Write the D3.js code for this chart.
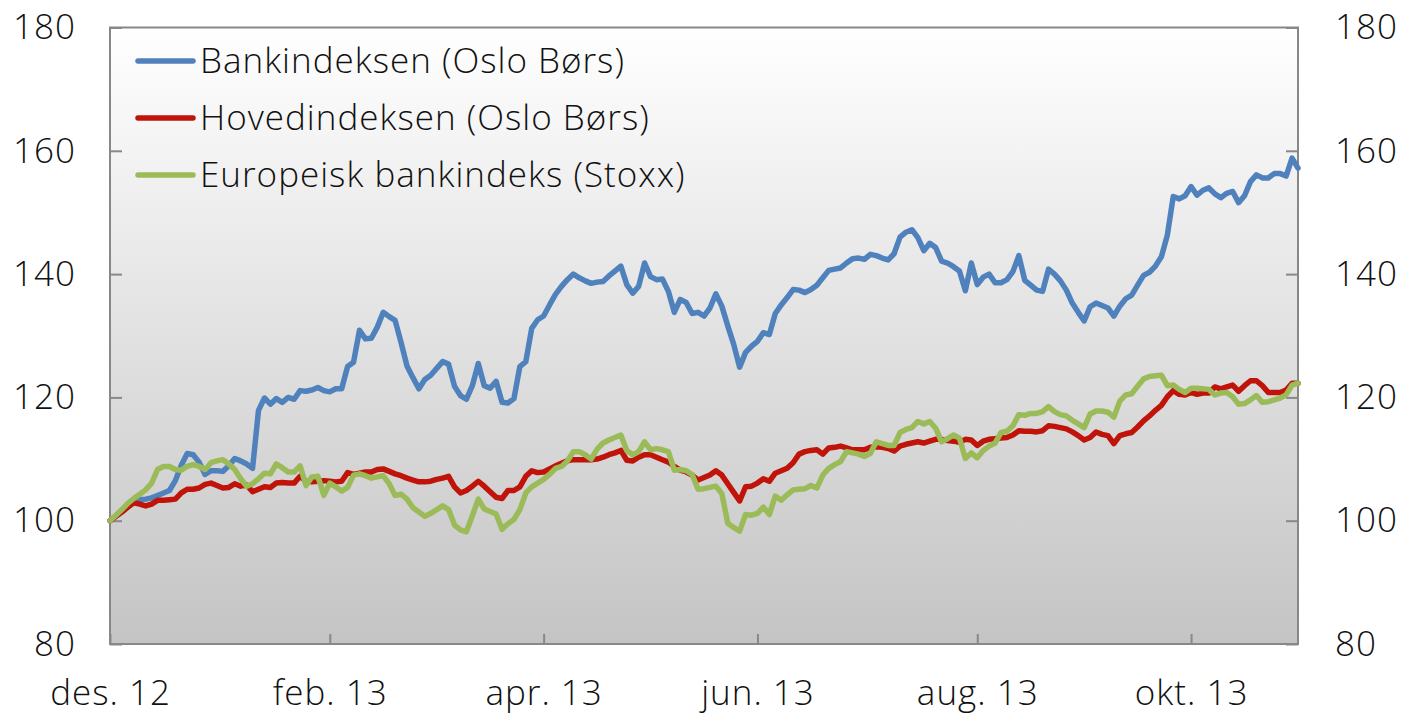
<!DOCTYPE html>
<html>
<head>
<meta charset="utf-8">
<script src="https://cdn.jsdelivr.net/npm/d3@7"></script>
<style>
  body { margin: 0; background: #ffffff; }
  svg text { font-family: "Open Sans", "Liberation Sans", Arial, sans-serif; font-weight: 300; fill: #111111; letter-spacing: 1px; }
</style>
</head>
<body>
<svg id="chart" width="1403" height="717"></svg>
<script>
// Index, 3 Dec 2012 = 100. One value per observation, shared category index.
const monthLabels = ["des. 12", "feb. 13", "apr. 13", "jun. 13", "aug. 13", "okt. 13"];
const monthIndex = [0, 37, 73, 109, 146, 182];
const yTicks = [80, 100, 120, 140, 160, 180];

const bankindeksen = [
  100.0, 100.7, 101.5, 102.2, 103.0, 103.4, 103.5, 103.7, 104.1, 104.5,
  104.9, 106.5, 109.0, 110.9, 110.7, 109.5, 107.5, 108.1, 108.1, 108.0,
  108.9, 110.1, 109.7, 109.2, 108.5, 117.9, 119.9, 118.9, 119.8, 119.2,
  120.0, 119.7, 121.1, 121.0, 121.2, 121.6, 121.1, 120.9, 121.4, 121.4,
  125.0, 125.7, 130.9, 129.5, 129.6, 131.4, 133.8, 133.1, 132.5, 128.9,
  125.1, 123.2, 121.4, 122.9, 123.6, 124.7, 125.8, 125.4, 121.8, 120.3,
  119.7, 121.9, 125.5, 121.9, 121.5, 122.6, 119.2, 119.1, 119.8, 125.0,
  125.8, 131.2, 132.6, 133.2, 135.0, 136.7, 138.0, 139.1, 140.0, 139.4,
  138.9, 138.5, 138.7, 138.8, 139.7, 140.5, 141.3, 138.3, 136.9, 138.0,
  141.8, 139.6, 139.1, 139.2, 137.2, 133.8, 135.9, 135.4, 133.6, 133.8,
  133.2, 134.5, 136.8, 134.8, 131.6, 128.6, 124.9, 127.3, 128.3, 129.1,
  130.5, 130.2, 133.6, 135.0, 136.2, 137.5, 137.4, 137.0, 137.5, 138.2,
  139.4, 140.6, 140.8, 141.0, 141.8, 142.5, 142.6, 142.4, 143.2, 143.0,
  142.6, 142.3, 143.3, 146.0, 146.8, 147.2, 145.9, 143.8, 145.0, 144.3,
  142.1, 141.8, 141.2, 140.5, 137.3, 141.8, 138.3, 139.5, 140.0, 138.6,
  138.6, 139.1, 140.4, 143.0, 139.0, 138.2, 137.4, 137.2, 140.8, 140.0,
  138.9, 137.4, 135.3, 133.8, 132.4, 134.7, 135.3, 134.9, 134.5, 133.2,
  134.8, 136.0, 136.6, 138.2, 139.8, 140.3, 141.3, 142.8, 146.3, 152.6,
  152.2, 152.7, 154.2, 152.8, 153.6, 154.0, 153.0, 152.4, 153.1, 153.4,
  151.6, 152.7, 155.0, 156.1, 155.6, 155.6, 156.3, 156.3, 155.9, 158.8,
  157.2
];

const hovedindeksen = [
  100.0, 100.7, 101.4, 102.2, 102.9, 102.7, 102.4, 102.7, 103.3, 103.3,
  103.4, 103.5, 104.5, 105.1, 105.1, 105.3, 105.9, 106.1, 105.7, 105.3,
  105.4, 106.0, 105.6, 105.8, 104.7, 105.1, 105.5, 105.4, 106.1, 106.2,
  106.1, 106.1, 107.2, 106.4, 106.3, 106.4, 106.5, 106.4, 106.3, 106.4,
  107.8, 107.5, 107.7, 107.9, 107.9, 108.3, 108.4, 108.0, 107.6, 107.3,
  106.9, 106.6, 106.3, 106.3, 106.4, 106.7, 106.9, 107.2, 105.5, 104.5,
  104.9, 105.6, 106.4, 105.6, 104.7, 103.8, 103.6, 104.9, 104.9, 105.5,
  107.2, 108.1, 107.8, 107.9, 108.4, 108.9, 109.3, 109.7, 109.9, 109.9,
  109.9, 109.9, 110.0, 110.3, 110.7, 111.0, 111.4, 109.8, 109.7, 110.3,
  110.7, 110.7, 110.3, 109.9, 109.5, 108.8, 108.2, 107.9, 107.4, 106.6,
  107.0, 107.4, 108.1, 107.4, 106.0, 104.6, 103.2, 105.5, 105.6, 106.1,
  106.8, 106.4, 107.7, 108.1, 108.5, 109.4, 110.8, 111.2, 111.4, 111.5,
  110.8, 111.8, 111.9, 112.1, 111.8, 111.5, 111.5, 111.5, 111.9, 112.0,
  111.9, 111.7, 111.3, 112.1, 112.4, 112.6, 112.8, 112.6, 112.9, 113.2,
  113.2, 113.0, 112.9, 112.7, 113.2, 113.1, 112.2, 112.9, 113.2, 113.3,
  113.4, 113.5, 113.9, 114.6, 114.5, 114.5, 114.4, 114.6, 115.4, 115.3,
  115.1, 114.9, 114.4, 113.8, 113.1, 113.5, 114.4, 114.0, 113.8, 112.5,
  113.8, 114.1, 114.3, 115.2, 116.2, 117.0, 117.9, 118.7, 120.1, 121.1,
  120.5, 120.4, 120.8, 120.5, 120.7, 120.7, 121.7, 121.4, 121.7, 122.0,
  121.0, 121.9, 122.7, 122.7, 121.9, 120.8, 120.8, 120.8, 121.2, 122.3,
  122.3
];

const europeiskBankindeks = [
  100.0, 100.9, 101.8, 102.8, 103.6, 104.3, 105.0, 106.1, 108.3, 108.8,
  108.8, 108.3, 108.2, 108.8, 109.1, 108.8, 108.3, 109.4, 109.7, 109.9,
  109.2, 108.3, 106.8, 105.6, 106.0, 106.8, 107.7, 107.6, 109.2, 108.6,
  107.9, 107.9, 108.9, 105.7, 107.1, 107.2, 104.1, 106.1, 105.5, 104.8,
  105.4, 107.4, 107.6, 107.3, 106.9, 107.1, 107.3, 106.0, 104.1, 104.3,
  103.5, 102.1, 101.4, 100.7, 101.2, 101.8, 102.4, 101.8, 99.3, 98.5,
  98.2, 100.8, 103.5, 101.9, 101.5, 101.1, 98.6, 99.5, 100.2, 101.8,
  104.5, 105.5, 106.1, 106.7, 107.5, 108.5, 108.8, 109.7, 111.2, 111.2,
  110.7, 110.0, 111.6, 112.6, 113.1, 113.5, 113.9, 111.4, 110.7, 111.2,
  112.8, 111.5, 111.7, 111.5, 111.2, 108.2, 108.3, 108.1, 107.5, 105.1,
  105.2, 105.4, 105.6, 104.4, 99.6, 98.9, 98.3, 101.0, 100.9, 101.2,
  102.2, 101.0, 104.0, 103.3, 104.2, 105.0, 105.1, 105.2, 105.7, 105.3,
  107.4, 108.5, 109.1, 109.6, 111.2, 111.0, 110.8, 110.4, 110.9, 112.8,
  112.5, 112.2, 112.2, 114.3, 114.8, 115.1, 116.1, 115.7, 116.1, 115.0,
  112.8, 113.3, 113.9, 113.4, 110.1, 111.0, 110.2, 111.4, 112.1, 112.6,
  114.3, 114.5, 115.4, 117.2, 117.1, 117.4, 117.4, 117.7, 118.5, 117.7,
  117.2, 117.0, 116.3, 115.7, 115.1, 117.3, 117.8, 117.8, 117.6, 116.8,
  119.4, 120.4, 120.6, 121.8, 123.0, 123.4, 123.5, 123.6, 121.9, 122.0,
  121.3, 120.8, 121.5, 121.5, 121.4, 121.3, 120.4, 120.7, 120.8, 120.1,
  118.9, 119.0, 119.6, 120.3, 119.2, 119.3, 119.6, 119.9, 120.4, 122.0,
  122.3
];

const seriesNames = ["Bankindeksen (Oslo Børs)", "Hovedindeksen (Oslo Børs)", "Europeisk bankindeks (Stoxx)"];
const seriesColors = ["#4f81bd", "#c0140a", "#9bbb59"];
const seriesValues = [bankindeksen, hovedindeksen, europeiskBankindeks];

const svg = d3.select("#chart");
const plot = { left: 110, right: 1298, top: 27.5, bottom: 644 };
const fontSize = 35;

const x = d3.scaleLinear().domain([0, bankindeksen.length - 1]).range([plot.left, plot.right]);
const y = d3.scaleLinear().domain([80, 180]).range([plot.bottom, plot.top]);

// Plot background: light at the top fading to grey at the bottom
const grad = svg.append("defs").append("linearGradient")
  .attr("id", "bg").attr("x1", 0).attr("y1", 0).attr("x2", 0).attr("y2", 1);
grad.append("stop").attr("offset", "0%").attr("stop-color", "#ffffff");
grad.append("stop").attr("offset", "100%").attr("stop-color", "#c4c4c4");

svg.append("rect")
  .attr("x", plot.left).attr("y", plot.top)
  .attr("width", plot.right - plot.left).attr("height", plot.bottom - plot.top)
  .attr("fill", "url(#bg)");

// Axes: inward ticks, labels outside the frame
function styleAxis(g) {
  g.select(".domain").remove();
  g.selectAll(".tick line").attr("stroke", "#888888").attr("stroke-width", 2);
  g.selectAll(".tick text")
    .style("font-size", fontSize + "px")
    .attr("fill", "#111111");
}

svg.append("g")
  .attr("transform", `translate(${plot.left},0)`)
  .call(d3.axisLeft(y).tickValues(yTicks).tickSize(-12).tickPadding(34).tickFormat(d3.format("d")))
  .call(styleAxis);

svg.append("g")
  .attr("transform", `translate(${plot.right},0)`)
  .call(d3.axisRight(y).tickValues(yTicks).tickSize(-12).tickPadding(37).tickFormat(d3.format("d")))
  .call(styleAxis);

svg.append("g")
  .attr("transform", `translate(0,${plot.bottom})`)
  .call(d3.axisBottom(x).tickValues(monthIndex).tickSize(-10).tickPadding(36)
    .tickFormat((d, i) => monthLabels[i]))
  .call(styleAxis);

// Frame around the plot area
svg.append("rect")
  .attr("x", plot.left).attr("y", plot.top)
  .attr("width", plot.right - plot.left).attr("height", plot.bottom - plot.top)
  .attr("fill", "none").attr("stroke", "#888888").attr("stroke-width", 2);

// Series lines
const line = d3.line().x((d, i) => x(i)).y(d => y(d));
seriesValues.forEach((vals, k) => {
  svg.append("path")
    .datum(vals)
    .attr("d", line)
    .attr("fill", "none")
    .attr("stroke", seriesColors[k])
    .attr("stroke-width", 5.5)
    .attr("stroke-linejoin", "round")
    .attr("stroke-linecap", "round");
});

// Legend
const legend = svg.append("g").attr("transform", "translate(138,61)");
seriesNames.forEach((name, k) => {
  const row = legend.append("g").attr("transform", `translate(0,${k * 57})`);
  row.append("line")
    .attr("x1", 0).attr("x2", 55).attr("y1", 0).attr("y2", 0)
    .attr("stroke", seriesColors[k]).attr("stroke-width", 5.5)
    .attr("stroke-linecap", "round");
  row.append("text")
    .attr("x", 62).attr("y", 12)
    .style("font-size", fontSize + "px")
    .text(name);
});
</script>
</body>
</html>
